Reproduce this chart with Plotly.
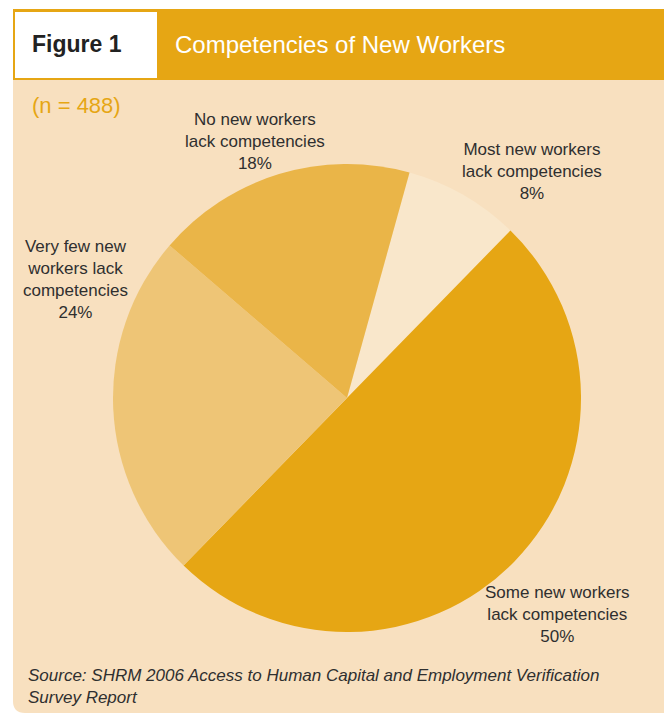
import plotly.graph_objects as go

# Survey result: share of respondents by assessment of new workers
categories = [
    "Most new workers lack competencies",
    "Some new workers lack competencies",
    "Very few new workers lack competencies",
    "No new workers lack competencies",
]
label_lines = [
    ["Most new workers", "lack competencies"],
    ["Some new workers", "lack competencies"],
    ["Very few new", "workers lack", "competencies"],
    ["No new workers", "lack competencies"],
]
percent_values = [8, 50, 24, 18]
slice_colors = ["#F9E7CB", "#E6A614", "#EEC576", "#EAB548"]

title_text = "Competencies of New Workers"
figure_tag = "Figure 1"
sample_note = "(n = 488)"
source_lines = [
    "Source: SHRM 2006 Access to Human Capital and Employment Verification",
    "Survey Report",
]

W, H = 664, 715
FONT = "Liberation Sans, Arial, sans-serif"
ORANGE = "#E6A614"
PEACH = "#F8E0BF"
INK = "#2F2F2F"


def px(x):
    return x / W


def py(y):
    return 1 - y / H


fig = go.Figure()

fig.add_trace(go.Pie(
    labels=categories,
    values=percent_values,
    sort=False,
    direction="clockwise",
    rotation=15.5,
    marker=dict(colors=slice_colors, line=dict(width=0)),
    textinfo="none",
    hoverinfo="label+percent",
    showlegend=False,
    domain=dict(x=[px(113), px(581)], y=[py(632), py(164)]),
))

shapes = []
# header band
shapes.append(dict(type="rect", xref="paper", yref="paper",
                   x0=px(13), x1=px(664), y0=py(80), y1=py(9),
                   fillcolor=ORANGE, line=dict(width=0), layer="below"))
# white tag box
shapes.append(dict(type="rect", xref="paper", yref="paper",
                   x0=px(15), x1=px(157), y0=py(78), y1=py(12),
                   fillcolor="white", line=dict(width=0), layer="below"))
# peach panel with rounded bottom-left corner
r = 12
path = (f"M {px(13)},{py(80)} L {px(664)},{py(80)} L {px(664)},{py(713)} "
        f"L {px(13 + r)},{py(713)} Q {px(13)},{py(713)} {px(13)},{py(713 - r)} Z")
shapes.append(dict(type="path", xref="paper", yref="paper", path=path,
                   fillcolor=PEACH, line=dict(width=0), layer="below"))

annotations = []


def add_text(text, x, y, size, color=INK, xanchor="center", align="center",
             bold=False, italic=False):
    t = text
    if bold:
        t = f"<b>{t}</b>"
    if italic:
        t = f"<i>{t}</i>"
    annotations.append(dict(text=t, x=px(x), y=py(y), xref="paper", yref="paper",
                            xanchor=xanchor, yanchor="middle", align=align,
                            showarrow=False,
                            font=dict(family=FONT, size=size, color=color)))


add_text(figure_tag, 77, 44, 23, color="#222222", bold=True)
add_text(title_text, 173, 44, 24, color="white", xanchor="left")
add_text(sample_note, 30, 105, 22, color=ORANGE, xanchor="left")

# slice labels, centred on each text block
label_pos = [(532, 171), (557, 614), (75, 279), (255, 141)]
for lines, val, (lx, ly) in zip(label_lines, percent_values, label_pos):
    add_text("<br>".join(lines + [f"{val}%"]), lx, ly, 17)

add_text("<br>".join(source_lines), 26, 686, 17, xanchor="left", align="left",
         italic=True)

fig.update_layout(
    width=W, height=H,
    margin=dict(l=0, r=0, t=0, b=0),
    paper_bgcolor="white",
    plot_bgcolor="white",
    shapes=shapes,
    annotations=annotations,
    font=dict(family=FONT),
)

fig.write_html("out.html")
